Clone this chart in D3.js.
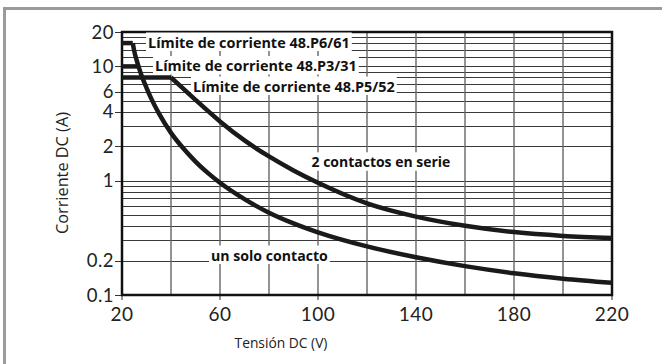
<!DOCTYPE html>
<html><head><meta charset="utf-8">
<script src="https://cdn.jsdelivr.net/npm/d3@7"></script>
<style>body{margin:0;background:#fff}svg{display:block}</style>
</head><body><svg id="c" width="662" height="364"></svg>
<script>
// ---- data ----
const xTickValues = [20, 60, 100, 140, 180, 220];
const xGridValues = [20, 40, 60, 80, 100, 120, 140, 160, 180, 200, 220];
const yTickValues = [20, 10, 6, 4, 2, 1, 0.2, 0.1];
const yGridValues = [0.2, 0.3, 0.4, 0.5, 0.6, 0.7, 0.8, 0.9, 1, 2, 3, 4, 5, 6, 7, 8, 9, 10, 12, 14, 16, 18];
const limitNames = ["Límite de corriente 48.P6/61", "Límite de corriente 48.P3/31", "Límite de corriente 48.P5/52"];
const limitCurrents = [16, 10, 8];
const limitEndVoltages = [24.4, 26.2, 40];
const seriesVoltage = [40, 45, 50, 60, 70, 80, 90, 100, 120, 140, 160, 180, 200, 220];
const seriesCurrent = [8, 6.4, 5.1, 3.3, 2.25, 1.63, 1.23, 0.96, 0.634, 0.485, 0.403, 0.355, 0.329, 0.315];
const singleVoltage = [24.4, 25, 26, 27, 28, 30, 32, 35, 40, 45, 50, 55, 60, 70, 80, 90, 100, 120, 140, 160, 180, 200, 220];
const singleCurrent = [16, 13.6, 11.3, 9.6, 8.3, 6.5, 5.2, 3.9, 2.62, 1.92, 1.47, 1.17, 0.96, 0.69, 0.525, 0.423, 0.353, 0.266, 0.214, 0.179, 0.155, 0.139, 0.128];
const seriesName = "2 contactos en serie";
const singleName = "un solo contacto";
const xTitle = "Tensión DC (V)";
const yTitle = "Corriente DC (A)";

// ---- layout ----
const svg = d3.select("#c");
const L = 122, R = 612, T = 32, B = 295;
const x = d3.scaleLinear().domain([20, 220]).range([L, R]);
const y = d3.scaleLog().domain([0.1, 20]).range([B, T]);
const crisp = v => Math.round(v) + 0.5;

// outer frame (gray, top + left)
svg.append("line").attr("x1", 3).attr("x2", 662).attr("y1", 8.5).attr("y2", 8.5)
  .attr("stroke", "#9b9b9b").attr("stroke-width", 3);
svg.append("line").attr("x1", 4.5).attr("x2", 4.5).attr("y1", 7).attr("y2", 364)
  .attr("stroke", "#9b9b9b").attr("stroke-width", 3);

// horizontal gridlines
svg.append("g").selectAll("line").data(yGridValues).join("line")
  .attr("x1", L).attr("x2", R)
  .attr("y1", d => crisp(y(d))).attr("y2", d => crisp(y(d)))
  .attr("stroke", "#3a3a3a").attr("stroke-width", 1);

// vertical gridlines (extend as ticks below)
svg.append("g").selectAll("line").data(xGridValues).join("line")
  .attr("x1", d => x(d)).attr("x2", d => x(d))
  .attr("y1", T).attr("y2", d => xTickValues.includes(d) ? B + 5 : B)
  .attr("stroke", "#666").attr("stroke-width", 1.4);

// y tick marks
svg.append("g").selectAll("line").data(yTickValues).join("line")
  .attr("x1", L - 7).attr("x2", L)
  .attr("y1", d => crisp(y(d))).attr("y2", d => crisp(y(d)))
  .attr("stroke", "#333").attr("stroke-width", 1);

// axis frame
svg.append("rect").attr("x", L).attr("y", T).attr("width", R - L).attr("height", B - T)
  .attr("fill", "none").attr("stroke", "#111").attr("stroke-width", 2.5);

// tick labels
const tickFont = "Lato, 'Open Sans', sans-serif";
svg.append("g").selectAll("text").data(yTickValues).join("text")
  .attr("x", 114).attr("y", d => y(d) + 6.5)
  .attr("text-anchor", "end").attr("font-family", tickFont).attr("font-size", 18.5)
  .attr("letter-spacing", 0.5).attr("fill", "#222")
  .text(d => d);
svg.append("g").selectAll("text").data(xTickValues).join("text")
  .attr("x", d => x(d)).attr("y", 321)
  .attr("text-anchor", "middle").attr("font-family", tickFont).attr("font-size", 19)
  .attr("letter-spacing", 0.5).attr("fill", "#222")
  .text(d => d);

// axis titles
const titleFont = "'Open Sans', 'Noto Sans', sans-serif";
svg.append("text").attr("x", 281).attr("y", 348).attr("text-anchor", "middle")
  .attr("font-family", titleFont).attr("font-size", 13.8).attr("fill", "#222").text(xTitle);
svg.append("text").attr("transform", "translate(68,173) rotate(-90)").attr("text-anchor", "middle")
  .attr("font-family", titleFont).attr("font-size", 16.3).attr("fill", "#222").text(yTitle);

// labels with white backgrounds; font size fitted to the target width
const labelFont = "'Open Sans', 'Noto Sans', sans-serif";
function boxedLabel(text, left, baseline, targetWidth) {
  const g = svg.append("g");
  const rect = g.append("rect").attr("fill", "#fff");
  const t = g.append("text").attr("x", left).attr("y", baseline)
    .attr("font-family", labelFont).attr("font-weight", "bold").attr("font-size", 14)
    .attr("fill", "#111").text(text);
  const w0 = t.node().getComputedTextLength();
  t.attr("font-size", 14 * targetWidth / w0);
  const w = t.node().getComputedTextLength();
  rect.attr("x", left - 2).attr("y", baseline - 15).attr("width", w + 4).attr("height", 18.5);
}
const limitLabelPos = [[148, 47.5], [155, 71], [193, 91.5]];
limitNames.forEach((n, i) => boxedLabel(n, limitLabelPos[i][0], limitLabelPos[i][1], 202));
boxedLabel(seriesName, 311.5, 167.3, 139);
boxedLabel(singleName, 211, 260.5, 117);

// curves
const line = d3.line().x(d => x(d[0])).y(d => y(d[1])).curve(d3.curveMonotoneX);
const curveStyle = s => s.attr("fill", "none").attr("stroke", "#1a1a1a").attr("stroke-width", 4.5)
  .attr("stroke-linejoin", "round");
limitCurrents.forEach((c, i) => {
  svg.append("path").attr("d", d3.line()([[x(20), y(c)], [x(limitEndVoltages[i]), y(c)]]))
    .call(curveStyle).attr("stroke-linecap", "butt");
});
svg.append("path").attr("d", line(seriesVoltage.map((v, i) => [v, seriesCurrent[i]]))).call(curveStyle);
svg.append("path").attr("d", line(singleVoltage.map((v, i) => [v, singleCurrent[i]]))).call(curveStyle);
</script>
</body></html>
